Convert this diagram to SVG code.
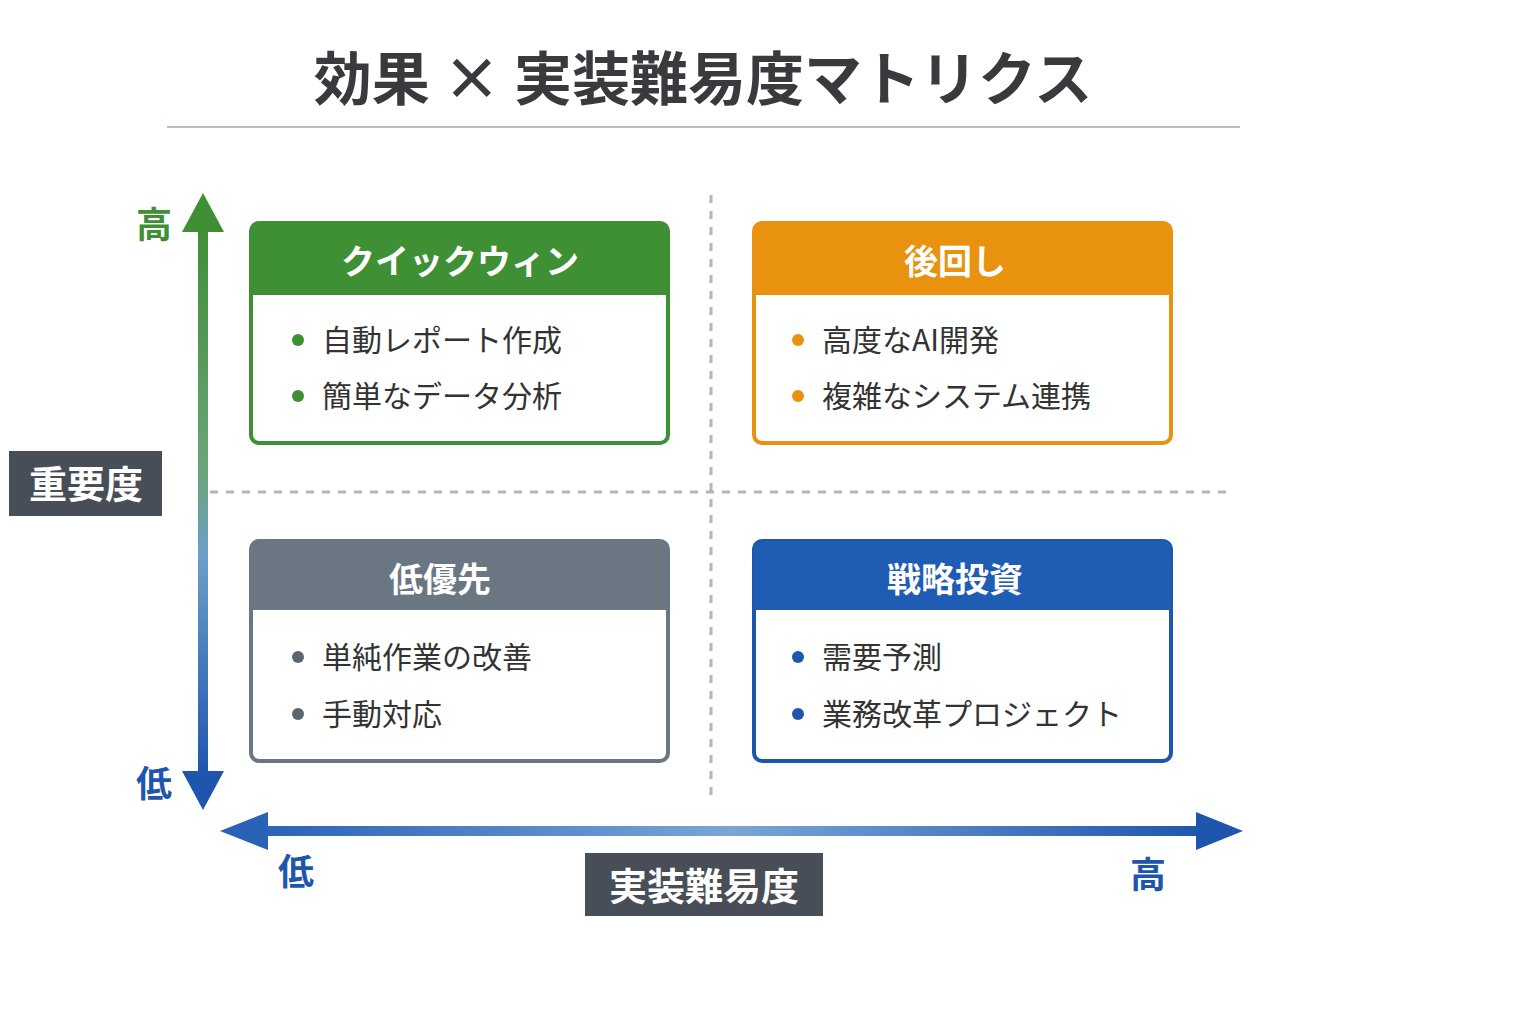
<svg xmlns="http://www.w3.org/2000/svg" width="1536" height="1024" viewBox="0 0 1536 1024">
<defs>
<linearGradient id="vg" x1="0" y1="0" x2="0" y2="1"><stop offset="0" stop-color="#3f8f35"/><stop offset="0.45" stop-color="#6aa57a"/><stop offset="0.6" stop-color="#6b9fc8"/><stop offset="1" stop-color="#1f56ad"/></linearGradient>
<linearGradient id="hg" x1="0" y1="0" x2="1" y2="0"><stop offset="0" stop-color="#2a63b6"/><stop offset="0.5" stop-color="#7aa6d6"/><stop offset="1" stop-color="#1f56ad"/></linearGradient>
<style>
text{font-family:"Noto Sans CJK JP","Noto Sans",sans-serif}
.t{font-size:34px;font-weight:bold;fill:#fff;text-anchor:middle}
.i{font-size:30px;fill:#333}
.ax{font-size:36px;font-weight:bold}
.lab{font-size:38px;font-weight:bold;fill:#fff;text-anchor:middle}
</style>
</defs>
<rect width="1536" height="1024" fill="#fff"/>
<text x="703" y="100" font-size="58" font-weight="bold" fill="#3a3a3e" text-anchor="middle">効果 × 実装難易度マトリクス</text>
<line x1="167" y1="127" x2="1240" y2="127" stroke="#b8bcc4" stroke-width="2"/>
<g id="connectors">
<line x1="711" y1="195" x2="711" y2="795" stroke="#b0b4bc" stroke-width="3" stroke-dasharray="8 8"/>
<line x1="210" y1="492" x2="1230" y2="492" stroke="#b0b4bc" stroke-width="3" stroke-dasharray="8 8"/>
<rect x="198" y="228" width="10" height="546" fill="url(#vg)"/>
<polygon points="203,193 224,232 182,232" fill="#3f8f35"/>
<polygon points="203,810 224,771 182,771" fill="#1f56ad"/>
<rect x="262" y="826" width="940" height="10" fill="url(#hg)"/>
<polygon points="220,831 268,812 268,850" fill="#2a63b6"/>
<polygon points="1243,831 1196,812 1196,850" fill="#1f56ad"/>
</g>
<text x="154" y="238" class="ax" fill="#3f8f35" text-anchor="middle">高</text>
<text x="154" y="797" class="ax" fill="#1f56ad" text-anchor="middle">低</text>
<text x="296" y="885" class="ax" fill="#1f56ad" text-anchor="middle">低</text>
<text x="1148" y="888" class="ax" fill="#1f56ad" text-anchor="middle">高</text>
<g id="label-y"><rect x="9" y="451" width="153" height="65" fill="#474e57"/><text x="86" y="498" class="lab">重要度</text></g>
<g id="label-x"><rect x="585" y="853" width="238" height="63" fill="#474e57"/><text x="704" y="900" class="lab">実装難易度</text></g>
<g id="quick">
<rect x="251" y="223" width="417" height="220" rx="8" fill="#fff" stroke="#3f8f35" stroke-width="4"/>
<path d="M251,295 V231 a8,8 0 0 1 8,-8 H660 a8,8 0 0 1 8,8 V295 Z" fill="#3f8f35"/>
<text x="460" y="274" class="t">クイックウィン</text>
<circle cx="298" cy="340" r="6" fill="#3f8f35"/><text x="322" y="351" class="i">自動レポート作成</text>
<circle cx="298" cy="396" r="6" fill="#3f8f35"/><text x="322" y="407" class="i">簡単なデータ分析</text>
</g>
<g id="later">
<rect x="754" y="223" width="417" height="220" rx="8" fill="#fff" stroke="#e8920f" stroke-width="4"/>
<path d="M754,295 V231 a8,8 0 0 1 8,-8 H1163 a8,8 0 0 1 8,8 V295 Z" fill="#e8920f"/>
<text x="955" y="274" class="t">後回し</text>
<circle cx="798" cy="340" r="6" fill="#e8920f"/><text x="822" y="351" class="i">高度なAI開発</text>
<circle cx="798" cy="396" r="6" fill="#e8920f"/><text x="822" y="407" class="i">複雑なシステム連携</text>
</g>
<g id="low">
<rect x="251" y="541" width="417" height="220" rx="8" fill="#fff" stroke="#6b7683" stroke-width="4"/>
<path d="M251,610 V549 a8,8 0 0 1 8,-8 H660 a8,8 0 0 1 8,8 V610 Z" fill="#6b7683"/>
<text x="440" y="592" class="t">低優先</text>
<circle cx="298" cy="657" r="6" fill="#5c6672"/><text x="322" y="668" class="i">単純作業の改善</text>
<circle cx="298" cy="714" r="6" fill="#5c6672"/><text x="322" y="725" class="i">手動対応</text>
</g>
<g id="strategy">
<rect x="754" y="541" width="417" height="220" rx="8" fill="#fff" stroke="#1f56ad" stroke-width="4"/>
<path d="M754,610 V549 a8,8 0 0 1 8,-8 H1163 a8,8 0 0 1 8,8 V610 Z" fill="#1f5cb3"/>
<text x="955" y="592" class="t">戦略投資</text>
<circle cx="798" cy="657" r="6" fill="#1f56ad"/><text x="822" y="668" class="i">需要予測</text>
<circle cx="798" cy="714" r="6" fill="#1f56ad"/><text x="822" y="725" class="i">業務改革プロジェクト</text>
</g>
</svg>
